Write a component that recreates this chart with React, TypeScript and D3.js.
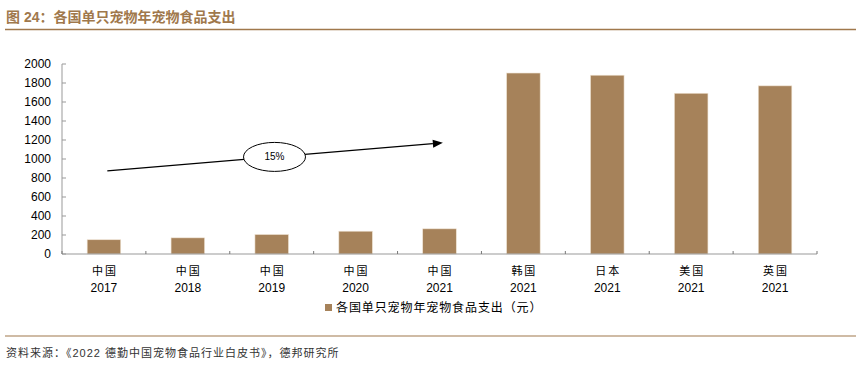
import React from "react";
import * as d3 from "d3";

const categories = ["中国|2017", "中国|2018", "中国|2019", "中国|2020", "中国|2021", "韩国|2021", "日本|2021", "美国|2021", "英国|2021"];
const values = [150, 170, 205, 240, 265, 1905, 1882, 1692, 1770];
const yTicks = [0, 200, 400, 600, 800, 1000, 1200, 1400, 1600, 1800, 2000];
const seriesName = "各国单只宠物年宠物食品支出（元）";
const title = "图 24：各国单只宠物年宠物食品支出";
const source = "资料来源：《2022 德勤中国宠物食品行业白皮书》，德邦研究所";
const cagrLabel = "15%";
// arrow annotation in data space: [category index offset, value]
const arrowStart = { idx: 0, dx: 0.04, v: 875 };
const arrowEnd = { idx: 4, dx: 0.04, v: 1170 };

const W = 862, H = 366;
const left = 62, right = 817, top = 64, bottom = 254;
const barColor = "#A6825A";
const brown = "#A0784C";
const font = "'Liberation Sans', Arial, 'Noto Sans CJK SC', sans-serif";

export default function App() {
  const x = d3.scaleBand<number>().domain(d3.range(categories.length)).range([left, right]).paddingInner(0.6).paddingOuter(0.3);
  const step = x.step();
  const y = d3.scaleLinear().domain([0, 2000]).range([bottom, top]);
  const cx = (i: number, dx: number) => left + step * (i + 0.5 + dx);
  const ax1 = cx(arrowStart.idx, arrowStart.dx), ay1 = y(arrowStart.v);
  const ax2 = cx(arrowEnd.idx, arrowEnd.dx), ay2 = y(arrowEnd.v);
  const ang = Math.atan2(ay2 - ay1, ax2 - ax1);
  const hl = 10, hw = 4;
  const tipX = ax2, tipY = ay2;
  const bx = tipX - hl * Math.cos(ang), by = tipY - hl * Math.sin(ang);
  const head = `M${tipX},${tipY} L${bx - hw * Math.sin(ang)},${by + hw * Math.cos(ang)} L${bx + hw * Math.sin(ang)},${by - hw * Math.cos(ang)} Z`;
  const ex = 274.5, ey = ay1 + (ay2 - ay1) * ((274.5 - ax1) / (ax2 - ax1));

  return (
    <svg width={W} height={H} style={{ position: "absolute", left: 0, top: 0 }} fontFamily={font}>
      <rect width={W} height={H} fill="#fff" />
      <text x={6} y={22} fontSize={14} fontWeight="bold" fill={brown}>{title}</text>
      <line x1={5} x2={856} y1={29.5} y2={29.5} stroke={brown} strokeWidth={1.5} />
      {/* y axis */}
      <line x1={left} x2={left} y1={top} y2={bottom} stroke="#999" />
      {yTicks.map((t) => (
        <g key={t}>
          <line x1={left} x2={left + 4} y1={y(t)} y2={y(t)} stroke="#999" />
          <text x={51} y={y(t)} dy="0.35em" textAnchor="end" fontSize={12} fill="#000">{t}</text>
        </g>
      ))}
      {/* bars */}
      {values.map((v, i) => (
        <rect key={i} x={x(i)} y={y(v)} width={x.bandwidth()} height={bottom - y(v)} fill={barColor} stroke="#EFE3D3" strokeWidth={0.6} />
      ))}
      {/* x axis */}
      <line x1={left} x2={right} y1={bottom} y2={bottom} stroke="#999" strokeWidth={1.2} />
      {d3.range(categories.length + 1).map((i) => (
        <line key={i} x1={left + step * i} x2={left + step * i} y1={bottom} y2={bottom - 3} stroke="#777" />
      ))}
      {categories.map((c, i) => {
        const [a, b] = c.split("|");
        const px = left + step * (i + 0.5);
        return (
          <g key={c + i}>
            <text x={px + 1} y={275} textAnchor="middle" fontSize={11} letterSpacing={2} fill="#000">{a}</text>
            <text x={px} y={292} textAnchor="middle" fontSize={12} fill="#000">{b}</text>
          </g>
        );
      })}
      {/* arrow annotation */}
      <line x1={ax1} y1={ay1} x2={bx} y2={by} stroke="#000" strokeWidth={1.3} />
      <path d={head} fill="#000" />
      <ellipse cx={ex} cy={ey} rx={31} ry={14.5} fill="#fff" stroke="#000" strokeWidth={1} />
      <text x={ex} y={ey} dy="0.35em" textAnchor="middle" fontSize={10} fill="#000">{cagrLabel}</text>
      {/* legend */}
      <rect x={325} y={304} width={7} height={7} fill={barColor} />
      <text x={336} y={312} fontSize={12} letterSpacing={0.9} fill="#000">{seriesName}</text>
      <line x1={5} x2={856} y1={336} y2={336} stroke={brown} strokeWidth={1.2} />
      <text x={6} y={357} fontSize={11} letterSpacing={1} fill="#333">{source}</text>
    </svg>
  );
}
